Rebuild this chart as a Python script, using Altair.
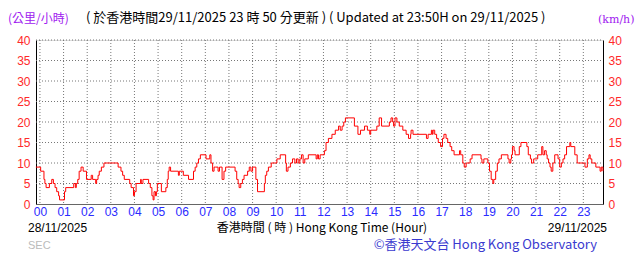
import altair as alt
import pandas as pd

# Change points of the wind speed trace (hour of day, km/h)
hours = [
    -0.17, 0.03, 0.17, 0.21, 0.26, 0.40, 0.50, 0.57, 0.64, 0.71, 0.79, 0.83,
    1.04, 1.09, 1.43, 1.50, 1.54, 1.60, 1.66, 1.74, 1.83, 1.97, 2.17, 2.23,
    2.36, 2.40, 2.46, 2.51, 2.60, 2.71, 3.31, 3.43, 3.50, 3.57, 3.80, 3.86,
    3.96, 4.00, 4.07, 4.26, 4.29, 4.36, 4.60, 4.67, 4.74, 4.79, 4.83, 4.89,
    4.93, 4.97, 5.14, 5.33, 5.39, 5.43, 5.47, 5.53, 5.86, 5.90, 6.07, 6.29,
    6.50, 6.57, 6.64, 6.71, 6.79, 7.03, 7.19, 7.24, 7.31, 7.37, 7.43, 7.54,
    7.60, 7.71, 7.79, 7.86, 8.26, 8.33, 8.39, 8.43, 8.50, 8.57, 8.64, 8.79,
    8.86, 8.93, 9.00, 9.14, 9.21, 9.50, 9.54, 9.60, 9.67, 9.79, 10.03, 10.17,
    10.40, 10.43, 10.50, 10.60, 10.69, 10.79, 10.86, 10.93, 11.00, 11.07,
    11.14, 11.21, 11.36, 11.69, 11.74, 11.79, 11.86, 12.04, 12.11, 12.21,
    12.36, 12.50, 12.64, 12.71, 12.79, 12.86, 12.93, 13.31, 13.46, 13.57,
    13.74, 13.86, 13.96, 14.00, 14.26, 14.36, 14.46, 14.79, 14.86, 14.93,
    14.97, 15.03, 15.11, 15.21, 15.36, 15.50, 15.60, 15.69, 15.71, 15.79,
    16.36, 16.43, 16.57, 16.61, 16.64, 16.71, 16.79, 16.86, 16.96, 17.04,
    17.10, 17.19, 17.26, 17.36, 17.43, 17.53, 17.76, 17.81, 17.90, 17.96,
    18.04, 18.21, 18.29, 18.67, 18.71, 18.79, 18.96, 19.03, 19.10, 19.17,
    19.21, 19.29, 19.36, 19.43, 19.53, 19.81, 19.86, 19.93, 19.96, 20.00,
    20.07, 20.11, 20.29, 20.36, 20.61, 20.67, 20.76, 20.81, 20.90, 21.07,
    21.24, 21.29, 21.36, 21.43, 21.47, 21.53, 21.59, 21.64, 21.71, 21.79,
    21.93, 22.00, 22.07, 22.14, 22.21, 22.29, 22.43, 22.47, 22.64, 22.74,
    23.07, 23.17, 23.24, 23.29, 23.36, 23.53, 23.71, 23.76, 23.83,
]
speeds = [
    9, 8, 6, 5, 4, 5, 6, 5, 4, 3, 2, 1,
    3, 4, 5, 4, 5, 6, 8, 9, 8, 6, 7, 6,
    5, 6, 7, 8, 9, 10, 9, 8, 7, 6, 5, 4,
    2, 3, 5, 6, 5, 6, 5, 4, 2, 1, 3, 2,
    3, 5, 3, 4, 6, 8, 9, 8, 7, 8, 7, 6,
    8, 9, 10, 11, 12, 11, 12, 10, 8, 9, 9, 8,
    9, 6, 8, 9, 8, 6, 5, 4, 5, 6, 7, 8,
    9, 8, 9, 6, 3, 5, 7, 8, 9, 10, 11, 12,
    10, 8, 9, 10, 11, 10, 11, 10, 11, 12,
    10, 11, 12, 11, 12, 11, 12, 13, 15, 16,
    17, 18, 19, 18, 19, 20, 21, 19, 17, 18,
    19, 18, 17, 18, 19, 21, 19, 20, 21, 20,
    19, 21, 20, 19, 18, 17, 16, 17, 18, 17,
    16, 17, 18, 17, 18, 17, 16, 15, 14, 16,
    17, 16, 15, 14, 13, 12, 13, 12, 10, 9,
    10, 11, 12, 11, 10, 11, 10, 8, 6, 5,
    6, 8, 10, 11, 12, 11, 10, 11, 12, 14,
    13, 12, 14, 15, 14, 12, 11, 10, 11, 12,
    14, 12, 13, 12, 11, 10, 9, 8, 10, 12,
    11, 9, 10, 11, 12, 14, 15, 14, 12, 10,
    9, 11, 12, 11, 10, 9, 8, 9, 8,
]

hour_ticks = list(range(24))
y_ticks = [0, 5, 10, 15, 20, 25, 30, 35, 40]
y_grid = [5, 10, 15, 20, 25, 30, 35, 40]

title_text = "( 於香港時間29/11/2025 23 時 50 分更新 ) ( Updated at 23:50H on 29/11/2025 )"
unit_left = "(公里/小時)"
unit_right = "(km/h)"
date_left = "28/11/2025"
date_right = "29/11/2025"
x_title = "香港時間 ( 時 ) Hong Kong Time (Hour)"
credit = "©香港天文台 Hong Kong Observatory"
sec_text = "SEC"

df = pd.DataFrame({"hour": hours, "speed": speeds})
vg_df = pd.DataFrame({"hour": hour_ticks})
hg_df = pd.DataFrame({"speed": y_grid})

W, H = 567, 164
FONT = "Liberation Sans"
CJK = "Noto Sans CJK TC"
RED = "#ff2a2a"
BLUE = "#2b2bff"
GRID = "#777777"

x_scale = alt.Scale(domain=[-1 / 6, 23 + 50 / 60], nice=False, zero=False)
y_scale = alt.Scale(domain=[0, 40], nice=False)

x_axis = alt.Axis(
    values=hour_ticks,
    labelExpr="(datum.value < 10 ? '0' : '') + datum.value",
    title=None,
    grid=False,
    ticks=False,
    domain=True,
    domainColor="#666666",
    labelColor=BLUE,
    labelFont=FONT,
    labelFontSize=12,
    labelPadding=2,
)

left_axis = alt.Axis(
    values=y_ticks,
    title=None,
    grid=False,
    ticks=False,
    domain=True,
    domainColor="#000000",
    labelColor=RED,
    labelFont=FONT,
    labelFontSize=12,
    labelPadding=6,
    orient="left",
)

right_axis = alt.Axis(
    values=y_ticks,
    title=None,
    grid=False,
    ticks=False,
    domain=True,
    domainColor="#000000",
    labelColor=RED,
    labelFont=FONT,
    labelFontSize=12,
    labelPadding=5,
    orient="right",
)

# dotted grid from the tick arrays
vgrid = alt.Chart(vg_df).mark_rule(
    color=GRID, strokeDash=[1, 2], strokeWidth=1
).encode(
    x=alt.X("hour:Q", scale=x_scale, axis=x_axis),
    y=alt.value(0),
    y2=alt.value(H),
)

hgrid = alt.Chart(hg_df).mark_rule(
    color=GRID, strokeDash=[1, 2], strokeWidth=1
).encode(
    y=alt.Y("speed:Q", scale=y_scale, axis=left_axis),
    x=alt.value(0),
    x2=alt.value(W),
)

line = alt.Chart(df).mark_line(color="#ff0000", strokeWidth=1, interpolate="step-after").encode(
    x=alt.X("hour:Q", scale=x_scale, axis=x_axis),
    y=alt.Y("speed:Q", scale=y_scale, axis=left_axis),
)

right = alt.Chart(df).mark_line(opacity=0).encode(
    x=alt.X("hour:Q", scale=x_scale, axis=x_axis),
    y=alt.Y("speed:Q", scale=y_scale, axis=right_axis),
)


def txt(s, x, y, color="#000000", size=12, font=CJK, align="left"):
    return alt.Chart(pd.DataFrame({"t": [s]})).mark_text(
        color=color, fontSize=size, font=font, align=align, baseline="middle"
    ).encode(text="t:N", x=alt.value(x), y=alt.value(y))


texts = [
    txt(unit_left, -28, -21, color="#a020f0", size=12),
    txt(title_text, 50, -22, size=13),
    txt(unit_right, 562, -20, color="#a020f0", size=11, font="DejaVu Serif"),
    txt(date_left, -8, 188, size=12, font=FONT),
    txt(x_title, 286, 188, size=12, align="center"),
    txt(date_right, 571, 188, size=12, font=FONT, align="right"),
    txt(sec_text, -8, 206, color="#bbbbbb", size=11, font=FONT),
    txt(credit, 561, 205, color="#3a3acf", size=13, align="right"),
]

main = alt.layer(vgrid, hgrid, line)

chart = alt.layer(main, right, *texts).resolve_axis(y="independent").properties(
    width=W,
    height=H,
    autosize=alt.AutoSizeParams(type="none"),
    padding={"left": 36, "top": 40, "right": 40, "bottom": 50},
).configure_view(stroke=None).configure(background="white")

chart.save("out.html", embed_options={"renderer": "svg", "actions": False})
